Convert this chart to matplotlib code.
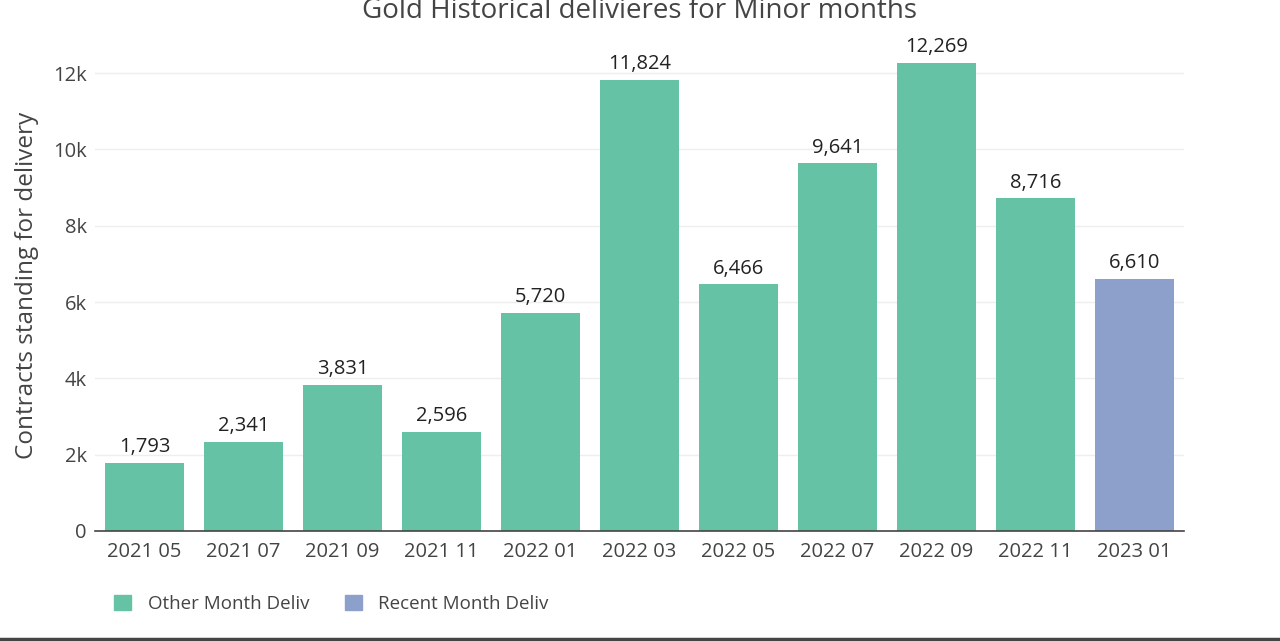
import matplotlib
matplotlib.use("Agg")
import matplotlib.pyplot as plt
from matplotlib.lines import Line2D
from matplotlib.patches import Patch
from matplotlib.ticker import FuncFormatter

plt.rcParams["font.family"] = ["Open Sans", "DejaVu Sans"]

months = ["2021 05", "2021 07", "2021 09", "2021 11", "2022 01", "2022 03",
          "2022 05", "2022 07", "2022 09", "2022 11", "2023 01"]
deliveries = [1793, 2341, 3831, 2596, 5720, 11824, 6466, 9641, 12269, 8716, 6610]
is_recent = [False] * 10 + [True]

GREEN = "#66c2a5"
BLUE = "#8da0cb"

fig = plt.figure(figsize=(12.8, 6.41), dpi=100)
ax = fig.add_axes([95 / 1280, 1 - 531 / 641, (1184 - 95) / 1280, (531 - 40) / 641])

x = list(range(len(months)))
colors = [BLUE if r else GREEN for r in is_recent]
ax.bar(x, deliveries, width=0.8, color=colors, zorder=2)

for xi, v in zip(x, deliveries):
    ax.annotate(f"{v:,}", (xi, v), xytext=(0, 4), textcoords="offset points",
                ha="center", va="bottom", fontsize=14.5, color="#222222")

ax.set_xlim(-0.5, 10.5)
ax.set_ylim(0, 12870)
ax.set_yticks(range(0, 12001, 2000))
ax.yaxis.set_major_formatter(FuncFormatter(lambda v, p: "0" if v == 0 else f"{int(v / 1000)}k"))
ax.set_xticks(x)
ax.set_xticklabels(months)
ax.tick_params(axis="both", labelsize=14.5, labelcolor="#444444", length=0, pad=8)
ax.tick_params(axis="y", pad=6)
ax.grid(axis="y", color="#eeeeee", linewidth=1, zorder=0)
for side in ["top", "right", "left"]:
    ax.spines[side].set_visible(False)
ax.spines["bottom"].set_color("#444444")
ax.spines["bottom"].set_linewidth(1.2)

ax.set_ylabel("Contracts standing for delivery", fontsize=17.5, color="#444444", labelpad=10)
fig.text(0.5, 1 - 11 / 641, "Gold Historical delivieres for Minor months",
         ha="center", va="center", fontsize=20, color="#444444")

handles = [Patch(color=GREEN, label="Other Month Deliv"),
           Patch(color=BLUE, label="Recent Month Deliv")]
fig.legend(handles=handles, loc="center left", bbox_to_anchor=(97 / 1280, 1 - 604 / 641),
           ncol=2, frameon=False, fontsize=13.5, handlelength=0.9, handleheight=0.9,
           handletextpad=0.9, columnspacing=1.9, labelcolor="#444444")

fig.add_artist(Line2D([0, 1], [1 - 639 / 641] * 2, color="#444444", linewidth=2.5,
                      transform=fig.transFigure))

fig.savefig("out.png", dpi=100)
